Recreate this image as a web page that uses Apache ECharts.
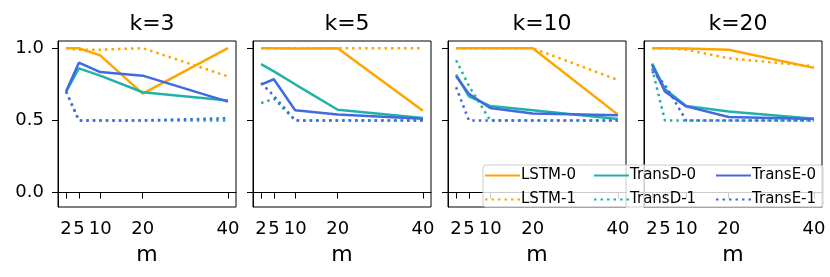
<!DOCTYPE html>
<html>
<head>
<meta charset="utf-8">
<script src="https://cdn.jsdelivr.net/npm/echarts@6/dist/echarts.min.js"></script>
<style>
html,body{margin:0;padding:0;background:#fff;}
#c{width:830px;height:277px;}
</style>
</head>
<body>
<div id="c"></div>
<script>
// ---- data ----
const mValues = [2, 5, 10, 20, 40];
const panelTitles = ['k=3', 'k=5', 'k=10', 'k=20'];
const yTicks = [0, 0.5, 1.0];
// each row: one panel (k=3, k=5, k=10, k=20), values at m = 2,5,10,20,40
const lstm0 = [
  [1.0, 1.0, 0.95, 0.685, 1.0],
  [1.0, 1.0, 0.998, 1.0, 0.567],
  [1.0, 1.0, 1.0, 1.0, 0.54],
  [1.0, 1.0, 0.998, 0.99, 0.864]
];
const lstm1 = [
  [1.0, 0.99, 0.99, 1.0, 0.805],
  [1.0, 1.0, 1.0, 1.0, 1.0],
  [1.0, 1.0, 1.0, 1.0, 0.78],
  [1.0, 1.0, 0.99, 0.93, 0.875]
];
const transD0 = [
  [0.70, 0.86, 0.81, 0.695, 0.637],
  [0.89, 0.84, 0.75, 0.574, 0.517],
  [0.817, 0.667, 0.60, 0.57, 0.51],
  [0.894, 0.718, 0.60, 0.562, 0.512]
];
const transD1 = [
  [0.70, 0.50, 0.50, 0.50, 0.50],
  [0.62, 0.65, 0.50, 0.50, 0.50],
  [0.917, 0.74, 0.50, 0.50, 0.50],
  [0.86, 0.50, 0.50, 0.50, 0.50]
];
const transE0 = [
  [0.70, 0.90, 0.835, 0.81, 0.63],
  [0.748, 0.785, 0.57, 0.54, 0.512],
  [0.805, 0.685, 0.586, 0.547, 0.535],
  [0.885, 0.70, 0.597, 0.523, 0.51]
];
const transE1 = [
  [0.70, 0.50, 0.50, 0.50, 0.515],
  [0.76, 0.67, 0.50, 0.50, 0.50],
  [0.73, 0.50, 0.50, 0.50, 0.50],
  [0.84, 0.748, 0.50, 0.50, 0.50]
];

const models = [
  {name: 'LSTM-0', data: lstm0, color: '#FFA500', dotted: false},
  {name: 'LSTM-1', data: lstm1, color: '#FFA500', dotted: true},
  {name: 'TransD-0', data: transD0, color: '#20B2AA', dotted: false},
  {name: 'TransD-1', data: transD1, color: '#20B2AA', dotted: true},
  {name: 'TransE-0', data: transE0, color: '#4169E1', dotted: false},
  {name: 'TransE-1', data: transE1, color: '#4169E1', dotted: true}
];

// ---- layout ----
const FONT = 'DejaVu Sans';
const gridLefts = [58, 253, 448, 644];
const gridW = 178, gridTop = 41, gridH = 166;

const grids = [], xAxes = [], yAxes = [], titles = [], series = [];
gridLefts.forEach((l, i) => {
  grids.push({left: l, top: gridTop, width: gridW, height: gridH,
    show: true, borderColor: '#000', borderWidth: 1, backgroundColor: 'transparent'});
  titles.push({text: panelTitles[i], left: l + gridW / 2, top: 8, textAlign: 'center',
    textStyle: {fontFamily: FONT, fontSize: 22, fontWeight: 'normal', color: '#000'}});
  xAxes.push({type: 'value', gridIndex: i, min: 0.1, max: 41.9,
    name: 'm', nameLocation: 'middle', nameGap: 37,
    nameTextStyle: {fontFamily: FONT, fontSize: 22, color: '#000'},
    axisLine: {show: true, lineStyle: {color: '#000', width: 1}},
    axisTick: {show: true, length: 6, inside: false, customValues: mValues, lineStyle: {color: '#000', width: 1}},
    axisLabel: {show: true, customValues: mValues, margin: 13, fontFamily: FONT, fontSize: 18, color: '#000'},
    splitLine: {show: false}});
  yAxes.push({type: 'value', gridIndex: i, min: -0.1, max: 1.05,
    axisLine: {show: true, lineStyle: {color: '#000', width: 1}},
    axisTick: {show: true, length: 6, customValues: yTicks, lineStyle: {color: '#000', width: 1}},
    axisLabel: {show: i === 0, customValues: yTicks, margin: 14, fontFamily: FONT, fontSize: 18, color: '#000',
      formatter: v => Number(v).toFixed(1)},
    splitLine: {show: false}});
  models.forEach((md, j) => {
    series.push({
      name: md.name, type: 'line', xAxisIndex: i, yAxisIndex: i,
      data: mValues.map((m, k) => [m, md.data[i][k]]),
      showSymbol: false, symbol: 'none', animation: false, z: 2 + j,
      itemStyle: {color: md.color},
      lineStyle: {color: md.color, width: 2.5, type: md.dotted ? [2.5, 4] : 'solid', cap: 'butt'}
    });
  });
});

const legendBase = {orient: 'vertical', itemWidth: 35, itemHeight: 14, itemGap: 9, padding: 0, z: 20,
  itemStyle: {opacity: 0},
  textStyle: {fontFamily: FONT, fontSize: 15, color: '#000', padding: [0, 0, 0, -4]}};
const legends = [
  Object.assign({}, legendBase, {left: 484, top: 168, data: ['LSTM-0', 'LSTM-1']}),
  Object.assign({}, legendBase, {left: 593, top: 168, data: ['TransD-0', 'TransD-1']}),
  Object.assign({}, legendBase, {left: 715, top: 168, data: ['TransE-0', 'TransE-1']})
];

const chart = echarts.init(document.getElementById('c'), null, {renderer: 'canvas'});
chart.setOption({
  backgroundColor: '#fff',
  animation: false,
  title: titles,
  grid: grids,
  xAxis: xAxes,
  yAxis: yAxes,
  legend: legends,
  series: series,
  graphic: [{type: 'rect', z: 15, shape: {x: 483, y: 165, width: 340, height: 42, r: 3},
    style: {fill: 'rgba(255,255,255,0.8)', stroke: '#cccccc', lineWidth: 1}}]
});
</script>
</body>
</html>
